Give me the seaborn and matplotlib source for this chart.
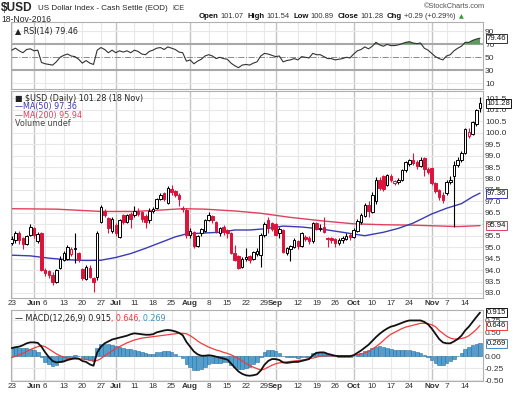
import matplotlib
matplotlib.use("Agg")
import matplotlib.pyplot as plt
import seaborn as sns
import numpy as np
import pandas as pd

sns.set_style("white")
plt.rcParams['font.family'] = ['Liberation Sans', 'DejaVu Sans']
LEG = ['DejaVu Sans']

# ---- data ----
holidays = ['2016-05-30', '2016-07-04', '2016-09-05']
dates = pd.bdate_range('2016-05-23', '2016-11-18')
dates = dates[~dates.isin(pd.to_datetime(holidays))]

opens = [95.20, 95.30, 95.60, 95.40, 95.15, 95.55, 95.85, 95.25, 95.60, 94.00,
         93.95, 93.80, 93.50, 94.10, 94.45, 94.50, 94.70, 94.90, 94.75, 94.05,
         93.60, 94.10, 93.65, 93.70, 96.12, 96.60, 96.26, 95.70, 95.97, 95.46,
         96.41, 96.12, 96.45, 96.40, 96.60, 96.55, 96.35, 96.20, 96.60, 96.70,
         97.10, 97.35, 96.95, 97.55, 97.45, 97.30, 96.68, 96.62, 95.55, 95.65,
         95.05, 95.60, 95.70, 96.20, 96.35, 96.10, 95.60, 95.90, 95.75, 95.60,
         94.75, 94.60, 94.15, 94.50, 94.60, 94.50, 94.70, 94.65, 95.55, 96.20,
         96.05, 96.00, 95.60, 95.75, 94.75, 94.90, 95.00, 95.25, 95.05, 95.45,
         95.40, 95.25, 96.05, 95.80, 95.90, 95.40, 95.40, 95.35, 95.20, 95.30,
         95.35, 95.55, 95.45, 95.70, 96.10, 96.35, 96.85, 96.55, 97.00, 97.95,
         98.10, 97.70, 98.10, 97.80, 97.85, 97.95, 98.35, 98.65, 98.80, 98.72,
         98.55, 98.90, 98.42, 98.45, 97.80, 97.50, 97.30, 97.35, 97.86, 98.10,
         98.60, 98.80, 99.10, 99.85, 99.95, 100.40, 101.07]
highs = [95.50, 95.70, 95.70, 95.45, 95.55, 96.00, 95.90, 95.65, 95.65, 94.10,
         94.00, 93.90, 94.05, 94.60, 94.85, 95.10, 95.00, 95.60, 94.80, 94.10,
         94.20, 94.20, 93.70, 95.70, 96.84, 96.65, 96.30, 96.30, 96.05, 96.25,
         96.45, 96.45, 96.55, 96.80, 96.70, 96.60, 96.45, 96.70, 96.75, 97.15,
         97.35, 97.40, 97.65, 97.70, 97.50, 97.35, 96.80, 96.70, 95.85, 95.70,
         95.55, 95.85, 96.25, 96.55, 96.40, 96.15, 95.90, 95.95, 95.80, 95.65,
         95.10, 94.65, 94.55, 94.95, 94.65, 94.85, 94.95, 95.60, 96.10, 96.30,
         96.10, 96.05, 95.90, 95.80, 95.00, 95.10, 95.40, 95.30, 95.65, 95.55,
         95.50, 96.10, 96.10, 96.00, 96.30, 95.45, 95.45, 95.40, 95.40, 95.50,
         95.60, 95.60, 95.85, 96.25, 96.50, 96.95, 97.00, 97.40, 98.05, 98.05,
         98.15, 98.20, 98.20, 97.95, 98.00, 98.40, 98.78, 98.85, 99.10, 98.80,
         98.95, 98.95, 98.50, 98.50, 97.85, 97.55, 97.40, 97.95, 98.10, 98.75,
         98.95, 99.20, 100.20, 100.20, 100.50, 101.05, 101.54]
lows = [95.10, 95.20, 95.15, 94.90, 95.10, 95.50, 95.40, 95.20, 93.95, 93.75,
        93.65, 93.35, 93.45, 94.05, 94.40, 94.45, 94.60, 94.30, 94.35, 93.55,
        93.55, 93.65, 93.05, 93.55, 96.04, 96.30, 95.61, 95.60, 95.50, 95.40,
        96.00, 96.05, 95.85, 96.30, 96.35, 96.10, 95.85, 96.05, 96.50, 96.65,
        97.05, 97.00, 96.90, 97.30, 97.20, 96.80, 96.55, 95.40, 95.40, 94.95,
        95.00, 95.50, 95.65, 96.15, 96.05, 95.60, 95.50, 95.55, 95.40, 94.70,
        94.40, 94.05, 94.10, 94.40, 94.30, 94.45, 94.60, 94.15, 95.45, 95.60,
        95.70, 95.50, 95.40, 94.75, 94.65, 94.40, 94.95, 94.90, 95.00, 95.25,
        95.15, 95.20, 95.75, 95.70, 95.60, 95.00, 95.20, 95.00, 95.10, 95.20,
        95.30, 95.30, 95.40, 95.65, 96.00, 96.30, 96.30, 96.50, 96.90, 97.50,
        97.45, 97.65, 97.85, 97.70, 97.75, 97.90, 98.30, 98.55, 98.60, 98.40,
        98.50, 98.10, 98.20, 97.70, 97.35, 97.05, 96.95, 97.30, 97.75, 95.90,
        98.50, 98.70, 99.05, 99.75, 99.90, 100.30, 100.89]
closes = [95.35, 95.62, 95.30, 95.15, 95.50, 95.90, 95.55, 95.58, 94.00, 93.85,
          93.80, 93.50, 94.00, 94.50, 94.75, 95.00, 94.90, 94.95, 94.50, 93.65,
          94.15, 93.70, 93.50, 95.60, 96.77, 96.41, 95.82, 96.25, 95.61, 96.19,
          96.12, 96.41, 96.25, 96.60, 96.45, 96.25, 96.10, 96.60, 96.65, 97.10,
          97.30, 97.10, 97.60, 97.40, 97.30, 97.10, 96.72, 95.55, 95.72, 95.05,
          95.50, 95.80, 96.20, 96.40, 96.20, 95.70, 95.82, 95.68, 95.60, 94.75,
          94.45, 94.10, 94.50, 94.55, 94.45, 94.80, 94.85, 95.55, 96.00, 95.85,
          95.80, 95.55, 95.80, 94.80, 94.95, 95.05, 95.30, 95.05, 95.60, 95.35,
          95.25, 96.05, 95.80, 95.85, 95.65, 95.35, 95.30, 95.20, 95.30, 95.40,
          95.50, 95.45, 95.75, 96.15, 96.40, 96.85, 96.60, 97.30, 97.95, 97.60,
          97.55, 98.15, 97.95, 97.90, 97.95, 98.35, 98.72, 98.80, 98.66, 98.55,
          98.80, 98.40, 98.30, 97.80, 97.45, 97.20, 97.06, 97.86, 97.93, 98.60,
          98.80, 99.10, 100.15, 100.05, 100.45, 100.99, 101.28]

ma50_idx = [0, 5, 10, 15, 20, 24, 28, 32, 36, 40, 44, 47, 52, 56, 60, 64, 68, 73,
            78, 83, 87, 91, 95, 100, 104, 108, 113, 117, 121, 124, 126]
ma50_val = [94.65, 94.62, 94.52, 94.45, 94.42, 94.43, 94.55, 94.72, 94.95, 95.20,
            95.45, 95.58, 95.62, 95.65, 95.75, 95.75, 95.80, 95.92, 95.88, 95.80,
            95.70, 95.60, 95.50, 95.65, 95.82, 96.05, 96.45, 96.70, 96.90, 97.20, 97.36]
ma200_idx = [0, 12, 24, 33, 40, 46, 52, 60, 67, 75, 84, 92, 100, 108, 116, 120, 126]
ma200_val = [96.68, 96.66, 96.56, 96.56, 96.62, 96.68, 96.66, 96.58, 96.48, 96.30,
             96.14, 96.02, 95.98, 95.96, 95.92, 95.90, 95.94]

rsi = [61, 64, 60, 57, 62, 63, 60, 61, 42, 40, 39, 38, 43, 50, 53, 55, 52, 51, 47, 41,
       45, 41, 39, 61, 65, 62, 57, 61, 57, 60, 58, 60, 57, 61, 59, 55, 54, 59, 61, 64,
       65, 62, 66, 64, 62, 58, 57, 44, 46, 40, 44, 47, 52, 54, 52, 48, 50, 48, 47, 41,
       37, 34, 38, 39, 38, 41, 43, 52, 56, 55, 53, 51, 52, 43, 45, 46, 48, 46, 51, 50,
       49, 56, 54, 54, 51, 48, 48, 46, 47, 48, 50, 49, 55, 60, 62, 66, 63, 67, 73, 69,
       67, 70, 68, 68, 69, 71, 73, 74, 72, 71, 72, 64, 61, 56, 51, 48, 46, 52, 54, 60,
       64, 67, 73, 73, 76, 78, 79.46]

macd = [0.17, 0.19, 0.20, 0.23, 0.27, 0.29, 0.29, 0.28, 0.20, 0.08,
        -0.02, -0.10, -0.13, -0.12, -0.11, -0.08, -0.06, -0.04, -0.05, -0.10,
        -0.12, -0.17, -0.20, 0.08, 0.20, 0.27, 0.31, 0.35, 0.37, 0.39,
        0.41, 0.43, 0.46, 0.48, 0.47, 0.46, 0.45, 0.45, 0.46, 0.50,
        0.52, 0.54, 0.55, 0.54, 0.52, 0.49, 0.44, 0.30, 0.20, 0.10,
        0.04, 0.01, 0.01, 0.02, 0.01, -0.01, -0.03, -0.05, -0.07, -0.15,
        -0.24, -0.32, -0.37, -0.40, -0.41, -0.40, -0.38, -0.30, -0.18, -0.10,
        -0.06, -0.06, -0.08, -0.13, -0.14, -0.13, -0.12, -0.12, -0.10, -0.08,
        -0.06, 0.02, 0.07, 0.08, 0.08, 0.05, 0.03, 0.01, 0.00, 0.00,
        0.00, 0.00, 0.02, 0.07, 0.12, 0.18, 0.24, 0.32, 0.40, 0.47,
        0.53, 0.58, 0.62, 0.64, 0.67, 0.70, 0.73, 0.75, 0.75, 0.75,
        0.75, 0.72, 0.67, 0.58, 0.47, 0.36, 0.29, 0.27, 0.27, 0.31,
        0.36, 0.43, 0.54, 0.62, 0.72, 0.82, 0.915]
signal = [-0.03, 0.00, 0.03, 0.06, 0.10, 0.14, 0.17, 0.20, 0.22, 0.20,
          0.15, 0.10, 0.05, 0.01, -0.02, -0.04, -0.05, -0.06, -0.06, -0.06,
          -0.07, -0.08, -0.10, -0.09, -0.05, 0.01, 0.06, 0.11, 0.16, 0.20,
          0.24, 0.28, 0.31, 0.34, 0.36, 0.38, 0.39, 0.40, 0.41, 0.42,
          0.43, 0.44, 0.45, 0.46, 0.47, 0.48, 0.48, 0.47, 0.43, 0.38,
          0.32, 0.27, 0.23, 0.19, 0.16, 0.13, 0.11, 0.08, 0.06, 0.03,
          -0.01, -0.05, -0.10, -0.15, -0.19, -0.23, -0.26, -0.29, -0.27, -0.23,
          -0.19, -0.16, -0.14, -0.13, -0.12, -0.11, -0.10, -0.09, -0.08, -0.07,
          -0.05, -0.04, -0.02, 0.00, 0.01, 0.01, 0.01, 0.01, 0.01, 0.01,
          0.01, 0.01, 0.02, 0.03, 0.05, 0.07, 0.10, 0.15, 0.20, 0.26,
          0.33, 0.40, 0.46, 0.50, 0.54, 0.58, 0.61, 0.63, 0.65, 0.67,
          0.69, 0.69, 0.68, 0.66, 0.62, 0.54, 0.48, 0.42, 0.38, 0.36,
          0.36, 0.37, 0.39, 0.43, 0.49, 0.56, 0.646]
hist = [0.20, 0.19, 0.17, 0.17, 0.17, 0.15, 0.12, 0.08, -0.02, -0.12,
        -0.17, -0.20, -0.18, -0.13, -0.09, -0.04, -0.01, 0.02, 0.01, -0.04,
        -0.05, -0.09, -0.10, 0.17, 0.25, 0.26, 0.25, 0.24, 0.21, 0.19,
        0.17, 0.15, 0.15, 0.14, 0.11, 0.08, 0.06, 0.05, 0.05, 0.08,
        0.09, 0.10, 0.10, 0.08, 0.05, 0.01, -0.04, -0.17, -0.23, -0.28,
        -0.28, -0.26, -0.22, -0.17, -0.15, -0.14, -0.14, -0.13, -0.13, -0.18,
        -0.23, -0.27, -0.27, -0.25, -0.22, -0.17, -0.12, -0.01, 0.09, 0.13,
        0.13, 0.10, 0.06, 0.00, -0.02, -0.02, -0.02, -0.03, -0.02, -0.01,
        -0.01, 0.06, 0.09, 0.08, 0.07, 0.04, 0.02, 0.00, -0.01, -0.01,
        -0.01, -0.01, 0.00, 0.04, 0.07, 0.11, 0.14, 0.17, 0.20, 0.21,
        0.20, 0.18, 0.16, 0.14, 0.13, 0.12, 0.12, 0.12, 0.10, 0.08,
        0.06, 0.03, -0.01, -0.08, -0.15, -0.18, -0.19, -0.15, -0.11, -0.05,
        0.00, 0.06, 0.15, 0.19, 0.23, 0.26, 0.269]

# right-axis labels (the ones under a value tag are hidden, as in the chart)
price_ticks = [93.0, 93.5, 94.0, 94.5, 95.0, 95.5, 96.5, 97.0, 97.5, 98.0, 98.5,
               99.0, 99.5, 100.0, 100.5, 101.0, 101.5]
macd_ticks = [-0.5, -0.25, 0.0, 0.5, 0.75]
rsi_ticks = [10, 30, 50, 70, 90]

RED = '#dc143c'
BLUE = '#3b3bb3'
MA200C = '#e0415e'
SIGC = '#f03c3c'
HISTC = '#3f8fc4'
GRID = '#e8e8e8'
MONTHGRID = '#c4c4c4'

x = np.arange(len(dates))
o = np.array(opens); h = np.array(highs); l = np.array(lows); c = np.array(closes)

# weekly / monthly gridlines and date labels
grid_idx, grid_month, tick_idx, tick_lab, is_month = [], [], [], [], []
for i, d in enumerate(dates):
    new_month = i > 0 and d.month != dates[i - 1].month
    nxt_month = i + 1 < len(dates) and dates[i + 1].month != d.month
    if new_month:
        grid_idx.append(i); grid_month.append(True)
        tick_idx.append(i); tick_lab.append(d.strftime('%b')); is_month.append(True)
    elif d.weekday() == 0:
        grid_idx.append(i); grid_month.append(False)
        if not nxt_month:
            tick_idx.append(i); tick_lab.append(str(d.day)); is_month.append(False)

W, H = 520, 393
fig = plt.figure(figsize=(W / 100, H / 100), dpi=100)


def box(x0, y0, x1, y1):
    return [x0 / W, 1 - y1 / H, (x1 - x0) / W, (y1 - y0) / H]


def fx(px, py):
    return px / W, 1 - py / H


ax_r = fig.add_axes(box(11, 22, 483, 89))
ax_p = fig.add_axes(box(11, 91, 483, 298))
ax_m = fig.add_axes(box(11, 310, 483, 381))

for ax in (ax_r, ax_p, ax_m):
    ax.set_xlim(-0.2, 126.8)
    for i, m in zip(grid_idx, grid_month):
        ax.axvline(i, color=MONTHGRID if m else GRID, lw=1.0 if m else 0.8, zorder=0)
    ax.yaxis.tick_right()
    ax.tick_params(axis='both', length=0, labelsize=6, colors='#333333', pad=1.5)
    for s in ax.spines.values():
        s.set_color('#b0b0b0'); s.set_linewidth(0.8)


def date_axis(ax):
    ax.set_xticks(tick_idx)
    ax.set_xticklabels(tick_lab)
    for t, m in zip(ax.get_xticklabels(), is_month):
        t.set_fontsize(5.9)
        if m:
            t.set_fontweight('bold')


# ---- RSI panel ----
ax_r.set_ylim(1.2, 104.3)
for lv in (10, 90):
    ax_r.axhline(lv, color=GRID, lw=0.8, zorder=0)
for lv in (30, 70):
    ax_r.axhline(lv, color='#a8a8a8', lw=1.5, zorder=1)
ax_r.axhline(50, color='#8a8a8a', lw=0.7, ls='-.', zorder=1)
rsi_a = np.array(rsi, dtype=float)
ax_r.fill_between(x, 70, rsi_a, where=rsi_a >= 70, interpolate=True,
                  color='#5f9a5f', lw=0, zorder=2)
sns.lineplot(x=x, y=rsi_a, ax=ax_r, color='#333333', lw=0.8, zorder=3)
ax_r.set_yticks(rsi_ticks)
ax_r.set_xticks([])
ax_r.set_xlabel(''); ax_r.set_ylabel('')
ax_r.text(0.008, 0.93, '\u25B2 RSI(14) 79.46', transform=ax_r.transAxes, fontsize=5.8,
          va='top', ha='left', color='#222222', family=LEG)

# ---- price panel ----
ax_p.set_ylim(92.78, 101.82)
for lv in np.arange(93.0, 101.51, 0.5):
    ax_p.axhline(lv, color=GRID, lw=0.8, zorder=0)
sns.lineplot(x=ma200_idx, y=ma200_val, ax=ax_p, color=MA200C, lw=1.0, zorder=2)
sns.lineplot(x=ma50_idx, y=ma50_val, ax=ax_p, color=BLUE, lw=1.0, zorder=2)

prev = np.r_[c[0] - 0.01, c[:-1]]
col = np.where(c >= prev, '#000000', RED)
hollow = c > o
ax_p.vlines(x, l, h, colors=col, lw=0.8, zorder=3)
body_lo = np.minimum(o, c)
body_h = np.maximum(np.abs(c - o), 0.03)
fc = [('white' if hw else cc) for hw, cc in zip(hollow, col)]
ax_p.bar(x, body_h, bottom=body_lo, width=0.68, color=fc, edgecolor=col,
         linewidth=0.7, zorder=4)
ax_p.set_yticks(price_ticks)
ax_p.set_yticklabels(['%.1f' % v for v in price_ticks])
date_axis(ax_p)
ax_p.set_xlabel(''); ax_p.set_ylabel('')

for k, (s, cc) in enumerate([('\u25A0 $USD (Daily) 101.28 (18 Nov)', '#222222'),
                             ('\u2014MA(50) 97.36', BLUE),
                             ('\u2014MA(200) 95.94', MA200C),
                             ('Volume undef', '#444444')]):
    ax_p.text(0.008, 0.985 - 0.04 * k, s, transform=ax_p.transAxes, fontsize=5.8,
              va='top', ha='left', color=cc, family=LEG)

# ---- MACD panel ----
ax_m.set_ylim(-0.52, 0.969)
for lv in (-0.5, -0.25, 0.0, 0.25, 0.5, 0.75):
    ax_m.axhline(lv, color=GRID, lw=0.8, zorder=0)
ax_m.bar(x, hist, width=0.95, color='#4f9fd0', edgecolor='#2e6f9c', linewidth=0.4, zorder=2)
sns.lineplot(x=x, y=signal, ax=ax_m, color=SIGC, lw=0.9, zorder=3)
sns.lineplot(x=x, y=macd, ax=ax_m, color='#111111', lw=1.3, zorder=4)
ax_m.set_yticks(macd_ticks)
ax_m.set_yticklabels(['%.2f' % v for v in macd_ticks])
date_axis(ax_m)
ax_m.set_xlabel(''); ax_m.set_ylabel('')

fig.canvas.draw()
rend = fig.canvas.get_renderer()


def chain(ax, x0, y0, pieces):
    xc = x0
    for s, cc in pieces:
        t = ax.text(xc, y0, s, transform=ax.transAxes, fontsize=5.8, va='top',
                    ha='left', color=cc, family=LEG)
        bb = t.get_window_extent(rend).transformed(ax.transAxes.inverted())
        xc = bb.x1


chain(ax_m, 0.008, 0.95, [('\u2014 MACD(12,26,9) 0.915', '#222222'),
                          (', 0.646', SIGC), (', 0.269', HISTC)])


# value tags on the right
def tag(ax, y, text, ec):
    ax.annotate(text, xy=(1.0, y), xycoords=('axes fraction', 'data'),
                xytext=(2.5, 0), textcoords='offset points', ha='left', va='center',
                fontsize=5.6, color='#111111', annotation_clip=False, zorder=10,
                bbox=dict(boxstyle='square,pad=0.12', fc='white', ec=ec, lw=0.7))


tag(ax_r, 79.46, '79.46', '#333333')
tag(ax_p, 101.28, '101.28', '#111111')
tag(ax_p, 97.36, '97.36', BLUE)
tag(ax_p, 95.94, '95.94', MA200C)
tag(ax_m, 0.915, '0.915', '#111111')
tag(ax_m, 0.646, '0.646', SIGC)
tag(ax_m, 0.269, '0.269', HISTC)

# ---- header ----
fig.text(*fx(1, 8), '$USD', fontsize=8.6, fontweight='bold', va='center')
fig.text(*fx(38, 8.5), 'US Dollar Index - Cash Settle (EOD)', fontsize=5.8, va='center')
fig.text(*fx(172, 8.5), 'ICE', fontsize=5.2, va='center', color='#333333')
fig.text(*fx(1, 19), '18-Nov-2016', fontsize=6.2, va='center')
fig.text(*fx(485, 6.5), '\u00A9StockCharts.com', fontsize=5.3, va='center', ha='right',
         color='#555555')

xpos = 199 / W
for s, b in [('Open', True), ('101.07', False), ('High', True), ('101.54', False),
             ('Low', True), ('100.89', False), ('Close', True), ('101.28', False),
             ('Chg', True), ('+0.29 (+0.29%)', False)]:
    t = fig.text(xpos, 1 - 17 / H, s, fontsize=5.6 if b else 5.4,
                 fontweight='bold' if b else 'normal', va='center',
                 color='#111111' if b else '#333333')
    bb = t.get_window_extent(rend).transformed(fig.transFigure.inverted())
    xpos = bb.x1 + (2.0 / W if b else 3.5 / W)
fig.text(xpos, 1 - 17 / H, '\u25B2', fontsize=4.5, va='center', color='#2e9a2e',
         family=LEG)

fig.savefig('out.png', dpi=100)
